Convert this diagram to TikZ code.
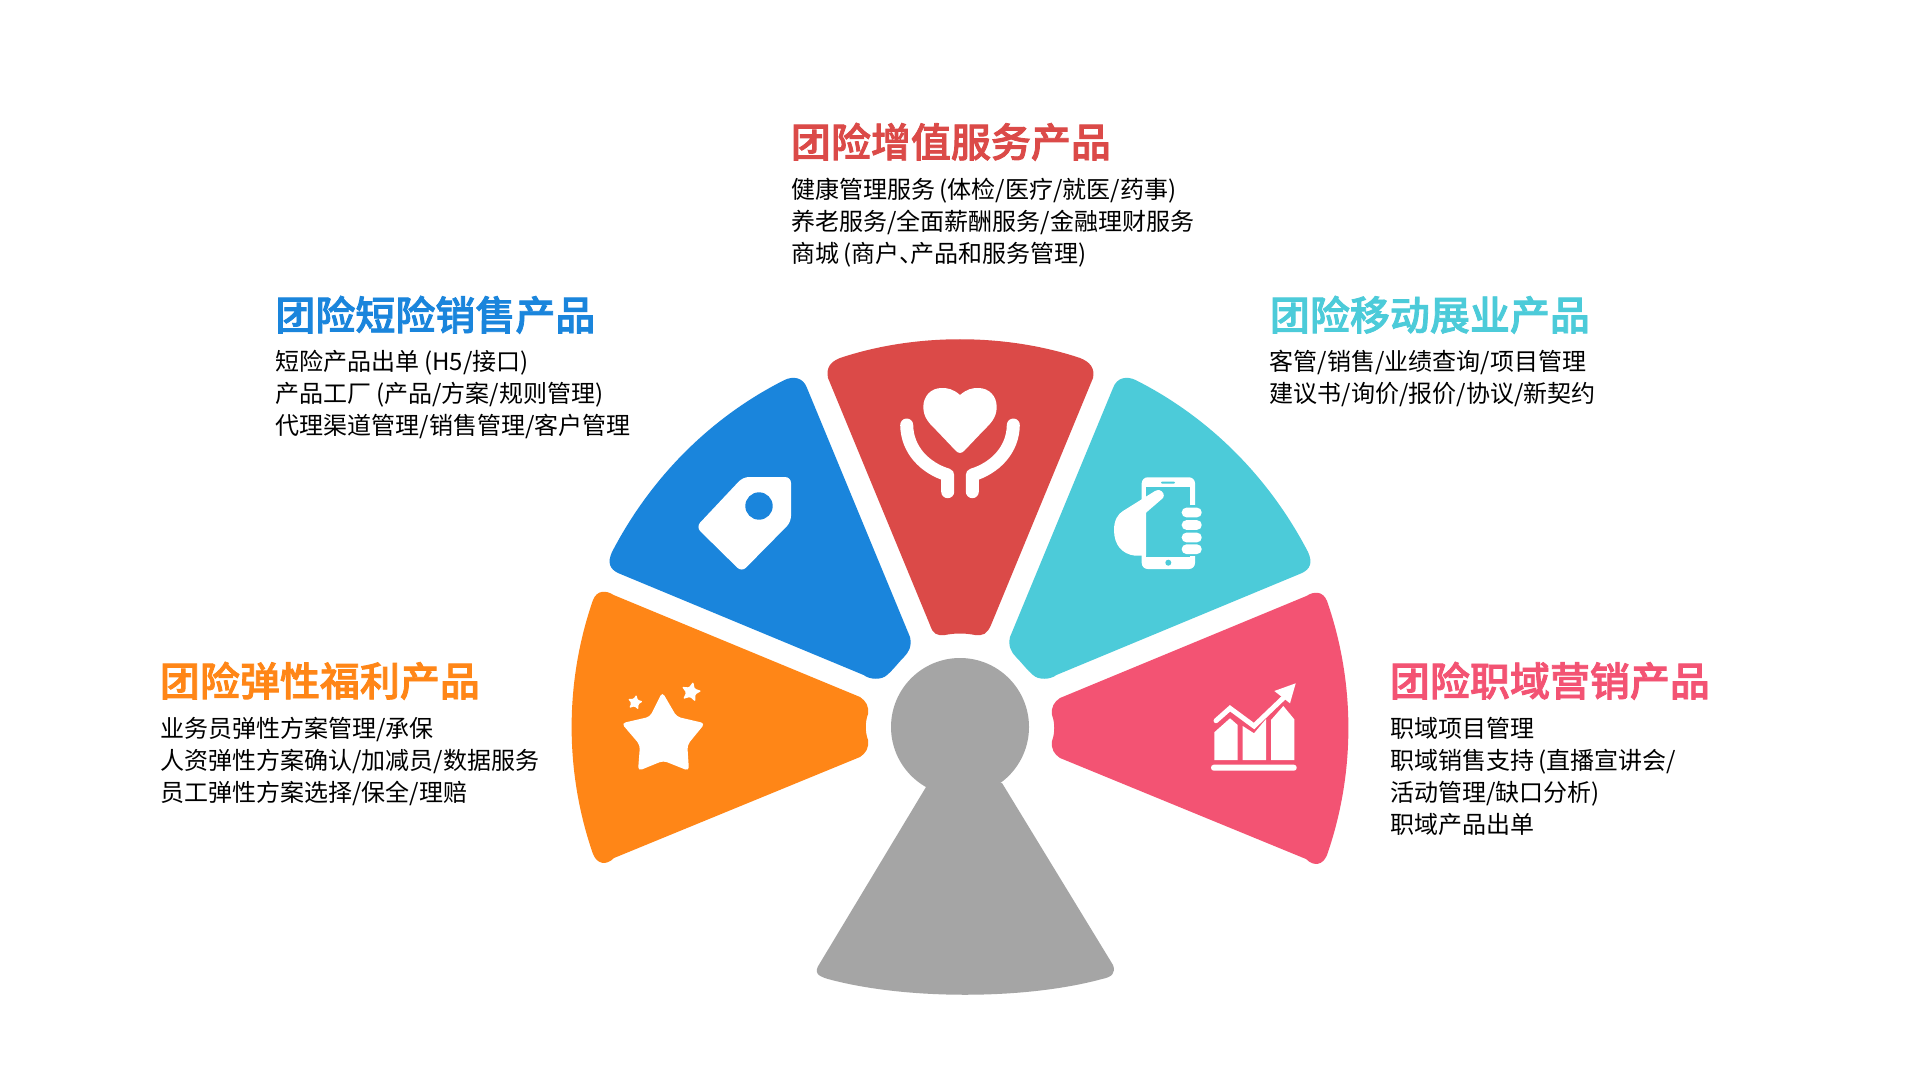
\documentclass[tikz,border=0pt]{standalone}
\usepackage{fontspec}
\setmainfont{Noto Sans CJK SC}
\newfontfamily\titlefont[FakeBold=2]{Noto Sans CJK SC Medium}
\usetikzlibrary{shapes.geometric}
\definecolor{cred}{HTML}{DB4A48}
\definecolor{cblue}{HTML}{1A85DC}
\definecolor{cteal}{HTML}{4CCBD9}
\definecolor{corange}{HTML}{FF8617}
\definecolor{cpink}{HTML}{F35373}
\definecolor{cgray}{HTML}{A5A5A5}
\newcommand{\opar}{\hspace{2.2pt}(}
\tikzset{
  titletext/.style={anchor=base west,inner sep=0pt,font=\fontsize{20}{24}\selectfont\titlefont},
  bodytext/.style={anchor=base west,inner sep=0pt,font=\fontsize{12}{16}\selectfont,text=black},
  iconline/.style={draw=white,line width=6.5pt,line cap=round,line join=round},
  staricon/.style={star,star points=5,star point ratio=2.1,fill=white,inner sep=0pt,rounded corners=0.6pt}
}
\def\bluewedge{(612,552) .. controls (651,477) and (711,417) .. (784.5,380) .. controls (793,376) and (803,377) .. (807,388) -- (910,637) .. controls (912,646) and (909,652) .. (904,657) .. controls (898,663) and (893,670) .. (887,675) .. controls (882,680) and (870,680) .. (863.6,675) -- (618,573) .. controls (610,569) and (607,563) .. (612,552) -- cycle}
\def\orangewedge{(593,600) .. controls (564.5,682) and (564.5,772) .. (593,854) .. controls (597,864) and (606,866) .. (614,858) -- (860,757) .. controls (866,753) and (869,748) .. (868,740) .. controls (865,732) and (865,722) .. (868,714) .. controls (869,706) and (866,701) .. (860,697) -- (613.6,595) .. controls (606,590) and (597,590) .. (593,600) -- cycle}
\begin{document}
\begin{tikzpicture}[x=0.5pt,y=-0.5pt]
\useasboundingbox (0,0) rectangle (1920,1080);
\fill[white] (0,0) rectangle (1920,1080);
% wedges
\fill[cred] (840,358) .. controls (915,333) and (1005,333) .. (1080,358) .. controls (1090,362) and (1095,368) .. (1093,378) -- (991,625) .. controls (987,634) and (983,636) .. (975,635) .. controls (965,633) and (955,633) .. (945,635) .. controls (937,636) and (933,634) .. (930,625) -- (828,378) .. controls (826,368) and (830,362) .. (840,358) -- cycle;
\fill[cblue] \bluewedge;
\begin{scope}[shift={(1920,0)},xscale=-1]
\fill[cteal] \bluewedge;
\end{scope}
\fill[corange] \orangewedge;
\begin{scope}[shift={(1920,1)},xscale=-1]
\fill[cpink] \orangewedge;
\end{scope}
% gray figure
\fill[cgray] (960,727) circle[radius=69];
\fill[cgray] (926,787) -- (820,963) .. controls (813,973) and (818,976) .. (828,979) .. controls (905,1000) and (1025,1000) .. (1102,979) .. controls (1112,977) and (1116,973) .. (1113,965) -- (1002,783) -- cycle;
% heart and hands
\fill[white] (960,395) .. controls (953,389) and (948,388) .. (941.7,388) .. controls (931,388) and (923.3,396) .. (923.3,407) .. controls (923.3,418) and (930,424) .. (936,430) -- (956,451) .. controls (958.5,453.5) and (961.5,453.5) .. (964,451) -- (984,430) .. controls (990,424) and (996.7,418) .. (996.7,407) .. controls (996.7,396) and (989,388) .. (978.3,388) .. controls (972,388) and (967,389) .. (960,395) -- cycle;
\draw[iconline] (906.7,425) .. controls (907,450) and (925,468) .. (947.7,475) -- (947.7,491.7);
\draw[iconline] (1013.3,425) .. controls (1013,450) and (995,468) .. (972.3,475) -- (972.3,491.7);
% tag
\fill[white,rounded corners=3pt] (743,477) -- (791,477) -- (791,522) -- (741.7,572) -- (696,527) -- cycle;
\fill[cblue] (759,506) circle[radius=13.7];
% phone
\fill[white,rounded corners=3pt] (1141.7,477.3) rectangle (1195,569);
\fill[cteal] (1146.3,487.3) rectangle (1190,557.3);
\fill[cteal] (1190,505) rectangle (1196,556);
\fill[cteal,rounded corners=0.5pt] (1161,481.7) rectangle (1175,483.7);
\fill[cteal] (1168.3,562.7) circle[radius=3];
\fill[white] (1159,490) .. controls (1163,491) and (1165,495) .. (1163,498) -- (1146,512.7) -- (1146,555.7) -- (1135,555.7) .. controls (1122,554) and (1114,545) .. (1114,530) .. controls (1114,520) and (1118,514) .. (1123,511) -- (1155,491) .. controls (1156,490.5) and (1158,490) .. (1159,490) -- cycle;
\foreach \fy in {512.5,525,537.5,549.2}{
  \fill[white,rounded corners=2.3pt] (1181.7,\fy-4.8) rectangle (1201.7,\fy+4.8);
}
% chart
\fill[white,rounded corners=1.4pt] (1211,764.7) rectangle (1296.7,770.7);
\fill[white] (1214.3,760) -- (1214.3,732.3) -- (1230,718.3) -- (1237.7,725) -- (1237.7,760) -- cycle;
\fill[white] (1242.7,760) -- (1242.7,726) -- (1254,733.3) -- (1266,719) -- (1266,760) -- cycle;
\fill[white] (1271,760) -- (1271,720) -- (1283.3,706) -- (1294.3,719.3) -- (1294.3,760) -- cycle;
\draw[white,line width=2.5pt,line cap=round,line join=miter] (1216,720.7) -- (1230,708.3) -- (1254,726) -- (1283.3,698);
\fill[white] (1295.7,683.3) -- (1274.3,691) -- (1290,703.3) -- cycle;
% stars
\fill[white,rounded corners=2pt] (662.3,692) -- (676.7,716.7) -- (705,723.3) -- (687.3,745) -- (689,771) -- (663.3,760.7) -- (638,771) -- (640,745) -- (621.5,723.3) -- (650,716.7) -- cycle;
\node[staricon,minimum size=8pt,rotate=-10] (smallstarone) at (635,702.5) {};
\node[staricon,minimum size=10.5pt,rotate=-12] (smallstartwo) at (691,692) {};
% red text
\node[titletext,text=cred] (redtitle) at (790.5,157) {团险增值服务产品};
\node[bodytext] (redone) at (791,199) {健康管理服务\opar 体检/医疗/就医/药事)};
\node[bodytext] (redtwo) at (791,231) {养老服务/全面薪酬服务/金融理财服务};
\node[bodytext] (redthree) at (791,263) {商城\opar 商户、\hspace{-6.5pt}产品和服务管理)};
% blue text
\node[titletext,text=cblue] (bluetitle) at (275,330) {团险短险销售产品};
\node[bodytext] (blueone) at (275.5,370.5) {短险产品出单\opar H5/接口)};
\node[bodytext] (bluetwo) at (275.5,402) {产品工厂\opar 产品/方案/规则管理)};
\node[bodytext] (bluethree) at (275.5,434) {代理渠道管理/销售管理/客户管理};
% teal text
\node[titletext,text=cteal] (tealtitle) at (1269.5,330) {团险移动展业产品};
\node[bodytext] (tealone) at (1269.5,370.5) {客管/销售/业绩查询/项目管理};
\node[bodytext] (tealtwo) at (1269.5,402) {建议书/询价/报价/协议/新契约};
% orange text
\node[titletext,text=corange] (orangetitle) at (159.5,696) {团险弹性福利产品};
\node[bodytext] (orangeone) at (160,737.5) {业务员弹性方案管理/承保};
\node[bodytext] (orangetwo) at (160,769.5) {人资弹性方案确认/加减员/数据服务};
\node[bodytext] (orangethree) at (160,801) {员工弹性方案选择/保全/理赔};
% pink text
\node[titletext,text=cpink] (pinktitle) at (1389.5,696) {团险职域营销产品};
\node[bodytext] (pinkone) at (1390,737) {职域项目管理};
\node[bodytext] (pinktwo) at (1390,769) {职域销售支持\opar 直播宣讲会/};
\node[bodytext] (pinkthree) at (1390,801) {活动管理/缺口分析)};
\node[bodytext] (pinkfour) at (1390,833) {职域产品出单};
\end{tikzpicture}
\end{document}
